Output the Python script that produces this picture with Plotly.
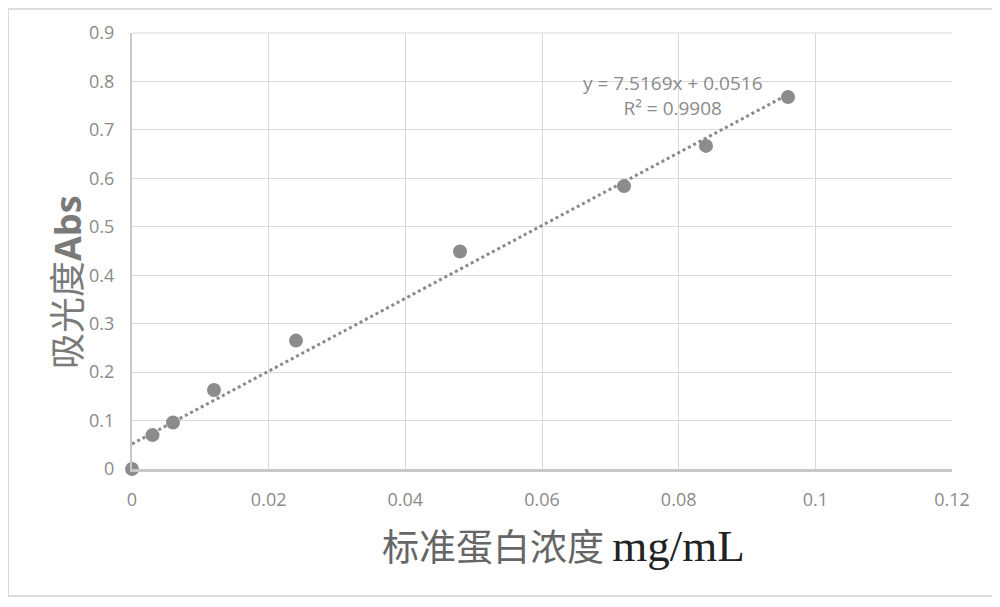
import plotly.graph_objects as go

concentration = [0, 0.003, 0.006, 0.012, 0.024, 0.048, 0.072, 0.084, 0.096]
absorbance = [0.0, 0.070, 0.096, 0.163, 0.265, 0.449, 0.584, 0.667, 0.768]
slope = 7.5169
intercept = 0.0516
r_squared = 0.9908
x_ticks = [0, 0.02, 0.04, 0.06, 0.08, 0.1, 0.12]
x_tick_labels = ["0", "0.02", "0.04", "0.06", "0.08", "0.1", "0.12"]
y_ticks = [0, 0.1, 0.2, 0.3, 0.4, 0.5, 0.6, 0.7, 0.8, 0.9]
y_tick_labels = ["0", "0.1", "0.2", "0.3", "0.4", "0.5", "0.6", "0.7", "0.8", "0.9"]

trend_x = [concentration[0], concentration[-1]]
trend_y = [slope * v + intercept for v in trend_x]

OFF = 8  # page body margin offset
FW, FH = 992, 599

fig = go.Figure()
fig.add_trace(go.Scatter(x=trend_x, y=trend_y, mode="lines",
                         line=dict(color="#8a8a8a", width=3, dash="dot"),
                         hoverinfo="skip", showlegend=False, cliponaxis=False))
fig.add_trace(go.Scatter(x=concentration, y=absorbance, mode="markers",
                         marker=dict(color="#8c8c8c", size=14),
                         showlegend=False, cliponaxis=False))

L, R, T, B = 132 - OFF, 952 - OFF, 33 - OFF, 469 - OFF
W, H = R - L, B - T

def px(x):
    return (x - OFF - L) / W

def py(y):
    return (B - (y - OFF)) / H

eq_text = "y = %.4fx + %.4f<br>R² = %.4f" % (slope, intercept, r_squared)

fig.update_layout(
    width=FW, height=FH,
    margin=dict(l=L, r=FW - R, t=T, b=FH - B),
    plot_bgcolor="white", paper_bgcolor="white",
    font=dict(family="Open Sans, sans-serif", color="#8a8a8a", size=18),
    xaxis=dict(range=[0, 0.12], tickvals=x_ticks, ticktext=x_tick_labels,
               showgrid=True, gridcolor="#d9d9d9", gridwidth=1,
               zeroline=False, showline=True, linecolor="#c8c8c8", linewidth=3,
               ticks="", ticklabelstandoff=12,
               tickfont=dict(size=18, color="#8a8a8a")),
    yaxis=dict(range=[0, 0.9], tickvals=y_ticks, ticktext=y_tick_labels,
               showgrid=True, gridcolor="#d9d9d9", gridwidth=1,
               zeroline=False, showline=True, linecolor="#c8c8c8", linewidth=2,
               ticks="", ticklabelstandoff=12,
               tickfont=dict(size=18, color="#8a8a8a")),
    shapes=[
        dict(type="rect", xref="paper", yref="paper",
             x0=px(8), x1=px(993), y0=py(596), y1=py(9),
             line=dict(color="#d0d0d0", width=1.5), layer="below"),
        dict(type="line", xref="paper", yref="paper",
             x0=0, x1=1, y0=1, y1=1, line=dict(color="#d9d9d9", width=1)),
    ],
    annotations=[
        dict(text=eq_text,
             xref="paper", yref="paper",
             x=px(673), y=py(96), xanchor="center", yanchor="middle",
             showarrow=False,
             font=dict(size=19, color="#8a8a8a"), align="center"),
        dict(text="吸光度<b><span style='font-family:Open Sans'>Abs</span></b>",
             xref="paper", yref="paper", x=px(65), y=py(282),
             xanchor="center", yanchor="middle",
             textangle=-90, showarrow=False,
             font=dict(size=36, color="#7a7a7a", family="Noto Sans CJK SC")),
        dict(text="标准蛋白浓度 <span style='font-family:Liberation Serif;color:#222222;font-size:45px'>mg/mL</span>",
             xref="paper", yref="paper", x=px(563), y=py(545),
             xanchor="center", yanchor="middle",
             showarrow=False,
             font=dict(size=37, color="#666666", family="Noto Sans CJK SC")),
    ],
)

fig.write_html("out.html")
